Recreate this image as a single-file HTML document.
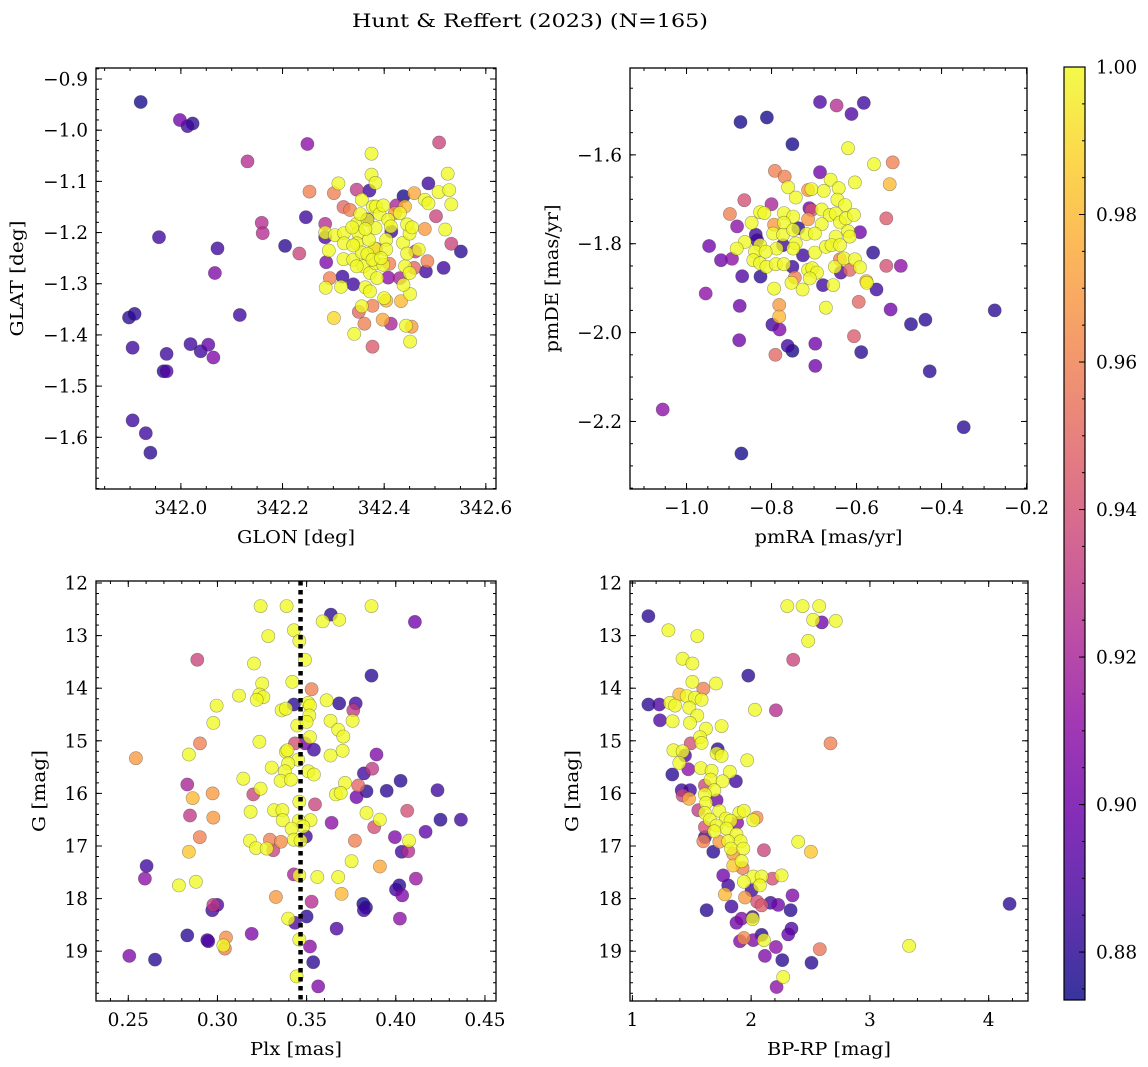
<!DOCTYPE html>
<html><head><meta charset="utf-8"><style>
html,body{margin:0;padding:0;background:#fff;}
svg{display:block;font-family:"DejaVu Serif","Liberation Serif",serif;}
</style></head><body>
<svg id="fig" width="1148" height="1067" viewBox="0 0 1148 1067" xmlns="http://www.w3.org/2000/svg">
<defs><linearGradient id="plasma" x1="0" y1="1" x2="0" y2="0">
<stop offset="0" stop-color="#0d0887"/><stop offset="0.1" stop-color="#41049d"/><stop offset="0.2" stop-color="#6a00a8"/><stop offset="0.3" stop-color="#8f0da4"/><stop offset="0.4" stop-color="#b12a90"/><stop offset="0.5" stop-color="#cc4778"/><stop offset="0.6" stop-color="#e16462"/><stop offset="0.7" stop-color="#f2844b"/><stop offset="0.8" stop-color="#fca636"/><stop offset="0.9" stop-color="#fcce25"/><stop offset="1" stop-color="#f0f921"/>
</linearGradient></defs>
<text id="title" x="530" y="27" font-size="19" text-anchor="middle" textLength="356" lengthAdjust="spacingAndGlyphs">Hunt &amp; Reffert (2023) (N=165)</text>
</svg>
<script>
// ---- Panel 1: GLON vs GLAT ----
const p1_glon=[341.921,341.998,342.013,342.023,342.131,342.249,342.508,342.375,342.525,342.375,342.383,342.310,342.487,342.346,342.371,342.253,342.301,342.459,342.507,342.528,342.438,342.480,342.487,342.532,342.356,342.320,342.333,342.378,342.424,342.441,342.502,342.246,342.159,342.161,341.957,342.205,342.233,342.072,342.067,342.551,342.532,342.520,342.480,342.284,342.284,342.286,342.293,342.318,342.339,342.517,342.482,342.485,342.459,342.461,342.408,342.431,342.116,341.898,341.909,341.905,341.972,341.966,341.972,342.019,342.039,342.054,342.064,341.905,341.931,341.940,342.377,342.341,342.301,342.361,342.397,342.413,342.443,342.454,342.451,342.350,342.356,342.377,342.285,342.315,342.363,342.372,342.400,342.404,342.433,342.451,342.438,342.441,342.450,342.284,342.303,342.291,342.321,342.321,342.320,342.339,342.346,342.349,342.346,342.356,342.359,342.372,342.386,342.383,342.398,342.381,342.367,342.370,342.383,342.367,342.384,342.391,342.408,342.413,342.404,342.404,342.437,342.445,342.450,342.445,342.455,342.468,342.431,342.398,342.353,342.363,342.337,342.377,342.346,342.394,342.339,342.410,342.384,342.421,342.367,342.414];
const p1_glat=[-0.945,-0.980,-0.992,-0.987,-1.061,-1.027,-1.024,-1.046,-1.085,-1.087,-1.103,-1.104,-1.104,-1.116,-1.118,-1.120,-1.123,-1.123,-1.121,-1.117,-1.129,-1.136,-1.143,-1.145,-1.136,-1.150,-1.156,-1.149,-1.147,-1.149,-1.168,-1.170,-1.181,-1.201,-1.209,-1.226,-1.241,-1.231,-1.279,-1.237,-1.222,-1.194,-1.193,-1.183,-1.209,-1.258,-1.289,-1.286,-1.301,-1.269,-1.276,-1.256,-1.269,-1.237,-1.288,-1.289,-1.361,-1.366,-1.359,-1.425,-1.437,-1.471,-1.471,-1.418,-1.432,-1.419,-1.444,-1.567,-1.592,-1.630,-1.423,-1.398,-1.367,-1.378,-1.370,-1.378,-1.382,-1.384,-1.413,-1.355,-1.344,-1.343,-1.308,-1.306,-1.307,-1.315,-1.328,-1.333,-1.334,-1.320,-1.302,-1.266,-1.279,-1.200,-1.205,-1.235,-1.201,-1.221,-1.252,-1.253,-1.183,-1.201,-1.221,-1.239,-1.266,-1.279,-1.289,-1.260,-1.263,-1.231,-1.242,-1.214,-1.191,-1.175,-1.149,-1.164,-1.175,-1.188,-1.214,-1.233,-1.220,-1.241,-1.202,-1.184,-1.190,-1.233,-1.162,-1.147,-1.164,-1.193,-1.190,-1.253,-1.266,-1.250,-1.225,-1.261,-1.232,-1.162,-1.174,-1.198];
const p1_prob=[0.875,0.90,0.885,0.88,0.925,0.91,0.935,1,1,1,1,1,0.885,0.93,0.885,0.96,0.96,0.975,1,1,0.875,1,1,1,1,0.95,0.96,1,0.92,0.98,0.935,0.885,0.925,0.925,0.885,0.88,0.935,0.885,0.905,0.88,0.935,1,0.97,0.925,0.89,0.905,0.96,0.885,0.885,0.885,0.885,0.96,0.95,0.93,0.91,0.92,0.885,0.88,0.88,0.885,0.885,0.88,0.89,0.885,0.885,0.895,0.905,0.885,0.885,0.88,0.945,1,0.99,0.96,0.975,0.92,1,0.97,1,0.95,1,0.96,1,1,1,1,1,0.98,0.98,1,1,1,1,1,1,1,1,1,1,1,1,1,1,1,1,1,1,1,1,1,1,1,1,1,1,1,1,1,1,1,1,1,1,1,1,1,1,1,1,1,1,1,1,1,1,0.96,0.95,0.97,0.885,0.885];

// ---- Panel 2: pmRA vs pmDE ----
const p2_pmra=[-0.686,-0.647,-0.583,-0.612,-0.873,-0.811,-0.751,-0.620,-0.559,-0.515,-0.522,-0.686,-0.792,-0.769,-0.661,-0.604,-0.761,-0.714,-0.706,-0.677,-0.642,-0.743,-0.645,-0.627,-0.864,-0.800,-0.898,-0.827,-0.817,-0.771,-0.749,-0.711,-0.706,-0.682,-0.663,-0.649,-0.639,-0.625,-0.606,-0.530,-0.714,-0.682,-0.881,-0.847,-0.794,-0.771,-0.737,-0.592,-0.620,-0.616,-0.837,-0.834,-0.796,-0.773,-0.749,-0.718,-0.698,-0.649,-0.863,-0.947,-0.882,-0.827,-0.788,-0.773,-0.743,-0.749,-0.726,-0.698,-0.672,-0.659,-0.639,-0.561,-0.919,-0.893,-0.839,-0.843,-0.814,-0.827,-0.812,-0.790,-0.771,-0.751,-0.714,-0.704,-0.693,-0.651,-0.639,-0.637,-0.630,-0.616,-0.604,-0.592,-0.530,-0.496,-0.869,-0.826,-0.745,-0.753,-0.710,-0.679,-0.655,-0.577,-0.576,-0.553,-0.794,-0.727,-0.955,-0.875,-0.782,-0.672,-0.595,-0.520,-0.275,-0.782,-0.798,-0.781,-0.472,-0.438,-0.876,-0.762,-0.751,-0.697,-0.606,-0.589,-0.791,-0.697,-0.428,-1.056,-0.348,-0.871];
const p2_pmde=[-1.481,-1.489,-1.483,-1.508,-1.526,-1.516,-1.576,-1.585,-1.621,-1.617,-1.666,-1.639,-1.636,-1.649,-1.656,-1.662,-1.673,-1.679,-1.677,-1.681,-1.675,-1.696,-1.701,-1.713,-1.702,-1.711,-1.733,-1.729,-1.731,-1.731,-1.739,-1.720,-1.724,-1.723,-1.735,-1.732,-1.752,-1.743,-1.735,-1.743,-1.745,-1.756,-1.761,-1.753,-1.757,-1.753,-1.765,-1.774,-1.772,-1.784,-1.780,-1.792,-1.777,-1.780,-1.769,-1.778,-1.777,-1.784,-1.796,-1.805,-1.811,-1.803,-1.811,-1.803,-1.799,-1.811,-1.826,-1.820,-1.807,-1.803,-1.803,-1.820,-1.837,-1.834,-1.818,-1.837,-1.818,-1.844,-1.852,-1.846,-1.846,-1.852,-1.859,-1.855,-1.865,-1.852,-1.835,-1.865,-1.833,-1.859,-1.835,-1.853,-1.850,-1.850,-1.873,-1.874,-1.876,-1.888,-1.878,-1.893,-1.893,-1.884,-1.888,-1.903,-1.901,-1.903,-1.912,-1.940,-1.938,-1.944,-1.931,-1.948,-1.950,-1.964,-1.982,-1.993,-1.981,-1.971,-2.017,-2.030,-2.041,-2.025,-2.008,-2.044,-2.050,-2.075,-2.087,-2.173,-2.213,-2.272];
const p2_prob=[0.89,0.925,0.885,0.89,0.875,0.875,0.875,1,1,0.96,0.98,0.9,0.96,0.96,1,1,1,0.97,1,1,1,1,1,1,0.94,0.92,0.96,1,1,1,1,0.9,0.94,1,1,1,1,1,1,0.945,0.97,1,0.91,1,0.97,1,0.88,0.9,1,1,0.885,0.885,1,1,1,1,1,1,1,0.9,1,1,1,0.885,1,1,0.885,1,1,1,1,0.88,0.9,0.91,1,1,1,1,1,1,1,0.885,1,1,1,1,0.96,0.89,1,0.95,1,1,0.94,0.91,0.89,0.88,0.96,1,1,0.885,1,0.98,1,0.885,1,1,0.91,0.9,0.97,1,0.95,0.9,0.88,0.98,0.885,0.905,0.88,0.88,0.9,0.885,0.875,0.9,0.945,0.88,0.95,0.9,0.88,0.91,0.88,0.875];

// ---- Panel 3: Plx vs G ----
const p3_plx=[0.3242,0.3388,0.3864,0.3636,0.3590,0.3683,0.4107,0.3429,0.3285,0.3459,0.3491,0.2887,0.3205,0.3864,0.3420,0.3251,0.3528,0.3121,0.3235,0.3257,0.3220,0.2995,0.3429,0.3509,0.3519,0.3612,0.3683,0.3775,0.3762,0.3360,0.3384,0.3515,0.3448,0.3500,0.2977,0.3634,0.3677,0.3758,0.3706,0.3519,0.3235,0.2902,0.3435,0.3491,0.3541,0.3384,0.3392,0.3702,0.3634,0.3892,0.2840,0.2543,0.3453,0.3397,0.3304,0.3378,0.3509,0.3541,0.3868,0.3821,0.3145,0.3354,0.3412,0.3715,0.4027,0.3790,0.2831,0.3242,0.3949,0.3836,0.4234,0.3201,0.2973,0.3664,0.3691,0.3780,0.2861,0.3459,0.3547,0.3317,0.3364,0.3186,0.3836,0.4064,0.2846,0.2977,0.3366,0.3522,0.3457,0.3911,0.4251,0.4365,0.3640,0.3879,0.3481,0.3416,0.4167,0.2901,0.3496,0.3995,0.3429,0.3466,0.3182,0.3294,0.3356,0.3771,0.4074,0.3216,0.3276,0.3313,0.2840,0.4033,0.4070,0.3752,0.3911,0.2603,0.2593,0.3429,0.3459,0.3560,0.3677,0.4113,0.2879,0.2784,0.4020,0.4001,0.4036,0.3328,0.3696,0.3528,0.2977,0.2999,0.2971,0.3818,0.3833,0.3821,0.3500,0.3397,0.3435,0.4023,0.3668,0.2831,0.3192,0.2943,0.2949,0.3048,0.3042,0.3033,0.3459,0.3519,0.2506,0.2650,0.3537,0.3444,0.3565];
const p3_g=[12.44,12.44,12.44,12.60,12.73,12.70,12.74,12.90,13.01,13.10,13.46,13.46,13.53,13.76,13.88,13.91,14.02,14.14,14.12,14.17,14.22,14.33,14.31,14.28,14.33,14.23,14.29,14.29,14.42,14.42,14.39,14.52,14.71,14.64,14.66,14.62,14.79,14.62,14.92,14.93,15.02,15.05,15.05,15.05,15.17,15.21,15.18,15.19,15.28,15.26,15.26,15.33,15.36,15.43,15.51,15.58,15.58,15.64,15.53,15.62,15.72,15.76,15.74,15.80,15.76,15.85,15.83,15.91,15.95,15.96,15.94,16.02,16.00,16.02,15.99,16.07,16.09,16.16,16.21,16.32,16.32,16.35,16.37,16.33,16.42,16.46,16.51,16.51,16.52,16.50,16.50,16.50,16.56,16.64,16.63,16.67,16.73,16.83,16.82,16.83,16.88,16.90,16.90,16.88,16.92,16.90,16.90,17.04,17.05,17.08,17.11,17.11,17.10,17.29,17.39,17.38,17.62,17.54,17.56,17.59,17.59,17.62,17.68,17.75,17.75,17.83,17.94,17.97,17.91,18.06,18.12,18.12,18.22,18.10,18.17,18.22,18.34,18.38,18.46,18.38,18.57,18.70,18.67,18.79,18.81,18.74,18.95,18.89,18.78,18.91,19.09,19.16,19.21,19.48,19.67];
const p3_prob=[1,1,1,0.88,1,1,0.9,1,1,1,1,0.935,1,0.88,1,1,0.96,1,1,1,1,1,0.88,1,1,1,0.88,0.885,0.93,1,1,1,1,1,1,1,1,1,1,1,1,0.96,0.94,0.9,0.885,1,1,1,1,0.905,1,0.97,1,1,1,1,1,1,0.93,0.885,1,1,1,1,0.88,0.95,0.92,1,0.88,0.88,0.885,0.935,0.97,1,1,0.9,0.98,1,0.935,1,1,1,1,0.94,0.93,0.97,1,1,1,1,0.88,0.885,0.91,0.94,1,1,0.895,0.96,0.885,0.905,1,1,1,0.96,0.965,0.96,1,1,1,0.935,0.985,0.885,0.925,1,0.975,0.885,0.91,0.92,1,1,1,0.915,1,1,0.88,0.885,0.905,0.97,0.98,0.925,0.93,0.89,0.885,0.875,0.88,0.885,0.88,1,0.89,0.91,0.89,0.88,0.905,0.89,0.89,0.965,0.96,1,1,0.91,0.905,0.88,0.88,1,0.905];

// ---- Panel 4: BP-RP vs G ----
const p4_bprp=[1.135,1.303,1.547,2.304,2.433,2.573,2.522,2.595,2.713,2.480,2.354,1.423,1.505,1.976,1.505,1.704,1.597,1.395,1.457,1.527,1.583,1.317,1.359,1.135,1.227,1.479,2.032,2.208,1.547,1.233,1.339,1.485,1.620,1.751,1.569,1.583,1.491,2.668,1.718,1.345,1.423,1.443,1.709,1.751,1.967,1.395,1.471,1.577,1.667,1.821,1.336,1.872,1.659,1.760,1.415,1.485,1.423,1.477,1.611,1.690,1.611,1.709,1.620,1.555,1.611,1.732,1.900,1.939,2.046,2.018,1.653,1.788,1.827,1.883,1.709,1.611,1.793,1.690,1.877,1.611,1.597,1.732,1.807,1.911,1.830,1.934,2.396,2.503,2.107,1.681,1.849,1.920,1.849,1.928,1.765,2.018,2.088,2.180,2.256,1.939,1.807,2.074,2.004,1.779,1.948,2.348,2.051,2.088,2.163,2.228,1.625,1.835,2.332,4.176,1.920,2.012,2.012,1.877,2.340,2.312,2.088,1.939,1.906,2.018,2.107,2.208,2.578,3.330,2.116,2.262,2.508,2.270,2.214];
const p4_g=[12.63,12.90,13.01,12.44,12.44,12.44,12.70,12.75,12.72,13.10,13.46,13.44,13.53,13.76,13.88,13.91,14.01,14.12,14.15,14.18,14.22,14.28,14.33,14.31,14.31,14.37,14.41,14.42,14.52,14.61,14.63,14.66,14.77,14.72,14.93,15.04,15.05,15.05,15.16,15.18,15.20,15.28,15.24,15.29,15.37,15.42,15.54,15.52,15.57,15.59,15.64,15.77,15.74,15.77,15.94,15.94,16.04,16.10,15.85,15.94,16.02,16.13,16.18,16.32,16.37,16.33,16.37,16.33,16.46,16.51,16.50,16.48,16.52,16.56,16.61,16.64,16.67,16.72,16.78,16.83,16.91,16.92,16.91,16.91,17.05,17.05,16.92,17.11,17.08,17.11,17.15,17.29,17.37,17.42,17.56,17.58,17.58,17.62,17.56,17.68,17.75,17.75,17.84,17.92,17.98,17.94,18.06,18.13,18.08,18.12,18.22,18.15,18.22,18.10,18.38,18.35,18.39,18.46,18.57,18.68,18.69,18.75,18.81,18.79,18.79,18.92,18.96,18.90,19.09,19.17,19.22,19.49,19.68];
const p4_prob=[0.88,1,1,1,1,1,1,0.9,1,1,0.935,1,1,0.88,1,1,0.96,0.98,1,1,1,1,1,0.88,0.89,1,1,0.925,1,0.89,1,1,1,1,1,1,0.94,0.96,0.88,1,1,0.89,1,1,1,1,0.91,1,1,1,0.88,0.885,1,1,0.885,0.885,0.935,0.975,0.935,1,1,0.9,1,0.93,1,1,1,1,0.965,1,1,1,1,0.91,1,0.94,1,1,1,0.885,0.96,0.97,1,1,1,1,1,0.985,0.935,0.88,0.97,1,0.985,0.96,0.9,1,1,0.94,1,1,0.885,1,0.885,0.98,0.97,0.905,0.94,0.945,0.885,0.9,0.88,0.885,0.88,0.88,0.905,0.885,1,0.9,0.89,0.895,0.88,0.965,0.905,0.905,1,0.91,0.955,1,0.905,0.88,0.88,1,0.91];

// colorbar ticks
const cbTicks=[0.88,0.90,0.92,0.94,0.96,0.98,1.00];
const PMIN=0.8735, PMAX=1.0;
const SVGNS="http://www.w3.org/2000/svg";
const svg=document.getElementById('fig');
const TFS=18.5; // tick font size
const CW={'0':0.636,'1':0.636,'2':0.636,'3':0.636,'4':0.636,'5':0.636,'6':0.636,'7':0.636,'8':0.636,'9':0.636,'.':0.318,'\u2212':0.838};
function tlen(s,fs){let w=0;for(const c of s)w+=(CW[c]||0.6);return w*fs;}

const stops=[[13,8,135],[65,4,157],[106,0,168],[143,13,164],[177,42,144],[204,71,120],[225,100,98],[242,132,75],[252,166,54],[252,206,37],[240,249,33]];
function plasma(t){t=Math.max(0,Math.min(1,t));const f=t*10,i=Math.min(9,Math.floor(f)),r=f-i;const a=stops[i],b=stops[i+1];return 'rgb('+[0,1,2].map(k=>Math.round(a[k]+(b[k]-a[k])*r)).join(',')+')';}
function el(tag,attrs,parent){const e=document.createElementNS(SVGNS,tag);for(const k in attrs)e.setAttribute(k,attrs[k]);(parent||svg).appendChild(e);return e;}
function fmt(v,d){return (v<0?'\u2212':'')+Math.abs(v).toFixed(d);}
function range(a,b,s){const out=[];const n=Math.round((b-a)/s);for(let i=0;i<=n;i++)out.push(+(a+i*s).toFixed(6));return out;}
function tickText(parent,x,y,s,anchor){
  const t=el('text',{x:x,y:y,'font-size':TFS,'text-anchor':anchor,stroke:'none',textLength:tlen(s,TFS).toFixed(1),lengthAdjust:'spacingAndGlyphs'},parent);
  t.textContent=s;return t;
}

function panel(cfg){
  const g=el('g',{});
  
  
  const {x0,x1,y0,y1,xlim,ylim}=cfg;
  const sx=v=>x0+(v-xlim[0])/(xlim[1]-xlim[0])*(x1-x0);
  const sy=v=>y1-(v-ylim[0])/(ylim[1]-ylim[0])*(y1-y0);
  const pts=el('g',{},g);
  
  
  const idx=cfg.xs.map((_,i)=>i).sort((a,b)=>cfg.ps[a]-cfg.ps[b]);
  idx.forEach(i=>{
    const c=el('circle',{cx:sx(cfg.xs[i]).toFixed(1),cy:sy(cfg.ys[i]).toFixed(1),r:6.6,fill:plasma((cfg.ps[i]-PMIN)/(PMAX-PMIN)),'fill-opacity':0.78,stroke:'#333','stroke-opacity':0.45,'stroke-width':0.6},pts);
    
    
  });
  if(cfg.vline!==undefined){
    const l=el('line',{x1:sx(cfg.vline),x2:sx(cfg.vline),y1:y0,y2:y1,stroke:'#000','stroke-width':4.5,'stroke-dasharray':'4.5 4.5'},g);
    
    
  }
  const tk=el('g',{stroke:'#000','stroke-width':1},g);
  
  
  const xmin=range(cfg.xminor[0],cfg.xminor[1],cfg.xminor[2]).filter(v=>v>=Math.min(...xlim)&&v<=Math.max(...xlim));
  xmin.forEach(v=>{const X=sx(v);el('line',{x1:X,x2:X,y1:y1,y2:y1-3},tk);el('line',{x1:X,x2:X,y1:y0,y2:y0+3},tk);});
  const ymn=range(cfg.yminor[0],cfg.yminor[1],cfg.yminor[2]).filter(v=>v>=Math.min(...ylim)&&v<=Math.max(...ylim));
  ymn.forEach(v=>{const Y=sy(v);el('line',{x1:x0,x2:x0+3,y1:Y,y2:Y},tk);el('line',{x1:x1,x2:x1-3,y1:Y,y2:Y},tk);});
  cfg.xticks.forEach(v=>{const X=sx(v);el('line',{x1:X,x2:X,y1:y1,y2:y1-6},tk);el('line',{x1:X,x2:X,y1:y0,y2:y0+6},tk);
    const t=tickText(g,X,y1+25,cfg.xfmt(v),'middle');
    
    });
  cfg.yticks.forEach(v=>{const Y=sy(v);el('line',{x1:x0,x2:x0+6,y1:Y,y2:Y},tk);el('line',{x1:x1,x2:x1-6,y1:Y,y2:Y},tk);
    const t=tickText(g,x0-8,Y+6.5,cfg.yfmt(v),'end');
    
    });
  const fr=el('rect',{x:x0,y:y0,width:x1-x0,height:y1-y0,fill:'none',stroke:'#000','stroke-width':1.3},g);
  
  
  const xl=el('text',{x:(x0+x1)/2,y:y1+54,'font-size':17.5,'text-anchor':'middle'},g);xl.textContent=cfg.xlabel;
  
  
  xl.setAttribute('textLength',cfg.xlabelW);
  xl.setAttribute('lengthAdjust','spacingAndGlyphs');
  const yx=cfg.ylabelX, yy=(y0+y1)/2;
  const yl=el('text',{x:yx,y:yy,'font-size':17.5,'text-anchor':'middle',transform:'rotate(-90 '+yx+' '+yy+')'},g);yl.textContent=cfg.ylabel;
  
  
  yl.setAttribute('textLength',cfg.ylabelW);
  yl.setAttribute('lengthAdjust','spacingAndGlyphs');
}

panel({name:'glon-glat-panel',x0:96,x1:496,y0:68,y1:489,xlim:[341.833,342.620],ylim:[-1.701,-0.8785],xs:p1_glon,ys:p1_glat,ps:p1_prob,
  xticks:[342.0,342.2,342.4,342.6],xminor:[341.85,342.6,0.05],yticks:[-1.6,-1.5,-1.4,-1.3,-1.2,-1.1,-1.0,-0.9],yminor:[-1.70,-0.88,0.02],
  xfmt:v=>v.toFixed(1),yfmt:v=>fmt(v,1),xlabel:'GLON [deg]',xlabelW:118,ylabel:'GLAT [deg]',ylabelW:116,ylabelX:23});
panel({name:'pm-panel',x0:630,x1:1027,y0:68,y1:489,xlim:[-1.133,-0.199],ylim:[-2.352,-1.4045],xs:p2_pmra,ys:p2_pmde,ps:p2_prob,
  xticks:[-1.0,-0.8,-0.6,-0.4,-0.2],xminor:[-1.1,-0.2,0.05],yticks:[-2.2,-2.0,-1.8,-1.6],yminor:[-2.35,-1.45,0.05],
  xfmt:v=>fmt(v,1),yfmt:v=>fmt(v,1),xlabel:'pmRA [mas/yr]',xlabelW:148,ylabel:'pmDE [mas/yr]',ylabelW:148,ylabelX:558});
panel({name:'plx-g-panel',x0:96,x1:496,y0:581,y1:1001,xlim:[0.2319,0.4562],ylim:[19.947,11.962],xs:p3_plx,ys:p3_g,ps:p3_prob,vline:0.3466,
  xticks:[0.25,0.30,0.35,0.40,0.45],xminor:[0.24,0.45,0.01],yticks:[12,13,14,15,16,17,18,19],yminor:[12,19.8,0.2],
  xfmt:v=>v.toFixed(2),yfmt:v=>v.toFixed(0),xlabel:'Plx [mas]',xlabelW:92,ylabel:'G [mag]',ylabelW:82,ylabelX:45});
panel({name:'cmd-panel',x0:630,x1:1028,y0:581,y1:1001,xlim:[0.980,4.331],ylim:[19.947,11.962],xs:p4_bprp,ys:p4_g,ps:p4_prob,
  xticks:[1,2,3,4],xminor:[1,4.2,0.2],yticks:[12,13,14,15,16,17,18,19],yminor:[12,19.8,0.2],
  xfmt:v=>v.toFixed(0),yfmt:v=>v.toFixed(0),xlabel:'BP-RP [mag]',xlabelW:124,ylabel:'G [mag]',ylabelW:82,ylabelX:578});

// colorbar
(function(){
  const cx0=1064,cx1=1085,cy0=67,cy1=1000;
  const g=el('g',{});
  
  
  const r=el('rect',{x:cx0,y:cy0,width:cx1-cx0,height:cy1-cy0,fill:'url(#plasma)','fill-opacity':0.82},g);
  
  
  const sy=v=>cy1-(v-PMIN)/(PMAX-PMIN)*(cy1-cy0);
  range(0.875,1.0,0.005).forEach(v=>{const Y=sy(v);el('line',{x1:cx1,x2:cx1-3,y1:Y,y2:Y,stroke:'#000','stroke-width':1},g);});
  cbTicks.forEach(v=>{const Y=sy(v);el('line',{x1:cx1,x2:cx1-6,y1:Y,y2:Y,stroke:'#000','stroke-width':1},g);
    const t=tickText(g,cx1+11,Y+6.5,v.toFixed(2),'start');
    
    });
  el('rect',{x:cx0,y:cy0,width:cx1-cx0,height:cy1-cy0,fill:'none',stroke:'#000','stroke-width':1.2},g);
})();
</script>
</body></html>
